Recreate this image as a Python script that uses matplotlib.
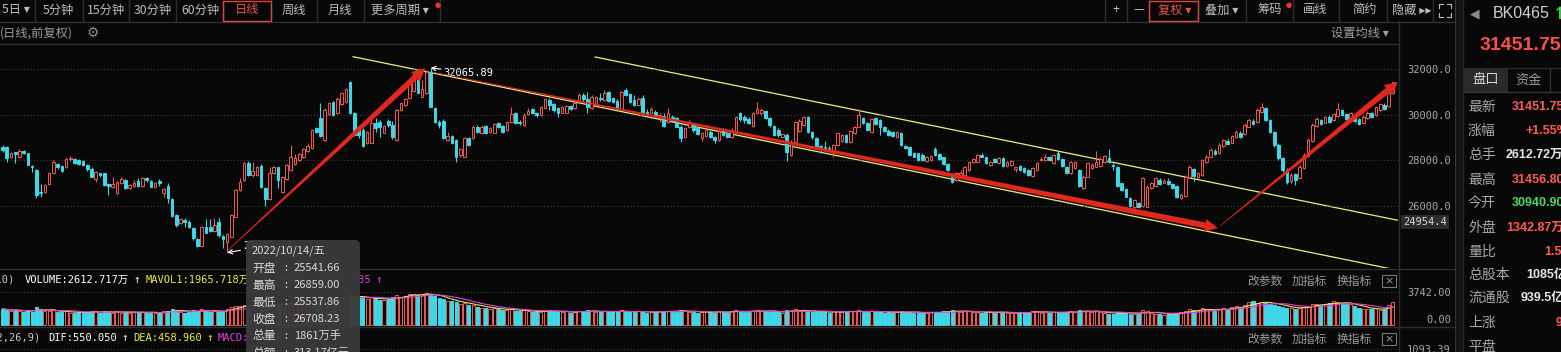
import matplotlib

matplotlib.use("agg")
import matplotlib.pyplot as plt
import numpy as np
import pandas as pd
from matplotlib.patches import Polygon, Rectangle, FancyBboxPatch
from matplotlib.lines import Line2D
from matplotlib.transforms import IdentityTransform, blended_transform_factory

plt.rcParams["font.family"] = ["Noto Sans CJK SC", "DejaVu Sans"]
CJK = ["Noto Sans CJK SC", "DejaVu Sans"]
MONO = ["DejaVu Sans Mono", "Noto Sans CJK SC"]

# daily candles (BK0465, 日线 前复权)
opens = [
    28572, 28572, 28161, 28352, 28132, 28396, 28308, 27751, 27575, 26623,
    26594, 26960, 27458, 27839, 27751, 27693, 28044, 28059, 28015, 27986,
    27795, 27634, 27194, 27429, 27429, 26960, 26843, 26579, 27019, 27136,
    26770, 26872, 27107, 26872, 27209, 27092, 26814, 27092, 26579, 26872,
    26286, 25598, 25231, 25378, 25305, 25012, 24528, 24235, 25085, 25056,
    24909, 25276, 24689, 24426, 24645, 25524, 26696, 27136, 27868, 27341,
    27356, 27751, 26770, 26286, 27429, 27693, 26623, 27165, 27575, 27839,
    28015, 28161, 28425, 28528, 29407, 29846, 28894, 30037, 30579, 30066,
    30476, 30579, 31458, 30066, 29480, 29333, 28747, 28777, 29626, 29700,
    29216, 29744, 29553, 28894, 30212, 30432, 30725, 31062, 31531, 30798,
    30945, 31897, 30286, 29700, 29744, 28894, 29070, 28894, 28235, 28161,
    28967, 28967, 29480, 29187, 29509, 29260, 29216, 29626, 29509, 29333,
    29700, 30066, 29700, 29553, 30037, 30242, 30066, 29993, 30286, 30652,
    30476, 30286, 30095, 30095, 30388, 30286, 30579, 30872, 30681, 30286,
    30432, 30755, 30652, 31018, 30725, 30622, 30242, 31091, 30916, 30652,
    30432, 30725, 30139, 30095, 30139, 29846, 29949, 29700, 29919, 29846,
    29480, 29011, 29480, 29553, 29407, 28967, 29070, 29260, 29011, 28894,
    29333, 29187, 29011, 29260, 30066, 29919, 29802, 29509, 30095, 30066,
    30183, 29846, 29509, 29333, 29011, 29114, 28235, 28821, 29304, 29553,
    29919, 29260, 28967, 28630, 28601, 28528, 28381, 28674, 28865, 29114,
    28821, 29187, 29480, 29846, 29655, 29260, 29846, 29773, 29451, 29304,
    29260, 29011, 29216, 28630, 28572, 28308, 28308, 28235, 27986, 28015,
    28484, 28264, 28132, 27839, 27356, 27136, 27282, 27356, 27575, 27927,
    27942, 28235, 28132, 27795, 28044, 27898, 28088, 27751, 27795, 27634,
    27751, 27649, 27575, 27312, 27575, 28030, 28015, 28161, 27868, 28308,
    28044, 27722, 27429, 27649, 27575, 26770, 27282, 27649, 27722, 27751,
    27942, 28088, 27810, 27722, 26989, 26726, 26330, 25964, 26140, 25993,
    25964, 26770, 26872, 27136, 27019, 27107, 26960, 26872, 26330, 26433,
    27282, 27605, 27253, 27356, 27942, 28161, 28425, 28308, 28630, 28865,
    28777, 29011, 29216, 29158, 29480, 29744, 29700, 30139, 30286, 29773,
    29260, 28674, 28088, 27575, 27107, 27400, 27209, 27649, 28191, 28865,
    29509, 29773, 29655, 29919, 29773, 29949, 30212, 30037, 29846, 29993,
    29802, 29655, 29846, 30066, 29993, 30212, 30432, 30388, 30941,
]
highs = [
    28674, 28630, 28381, 28381, 28484, 28454, 28337, 27810, 27605, 26960,
    26960, 27487, 28015, 27898, 27795, 28088, 28190, 28103, 28044, 28015,
    27824, 27693, 27517, 27458, 27458, 26989, 27282, 27107, 27253, 27180,
    26960, 27136, 27209, 27253, 27253, 27136, 27063, 27165, 26770, 26989,
    26330, 25642, 25480, 25451, 25378, 25056, 24572, 25129, 25422, 25436,
    25451, 25451, 24719, 24792, 25642, 26726, 27209, 27942, 27986, 27942,
    27751, 27839, 26814, 27693, 27751, 27722, 27312, 27839, 28674, 28279,
    28337, 28528, 28747, 29363, 29480, 30505, 30286, 30579, 30622, 30769,
    31018, 31165, 31502, 30139, 29553, 29407, 29304, 29846, 29846, 29773,
    29553, 29802, 29744, 30242, 30579, 30725, 31458, 31751, 31897, 31531,
    31970, 32066, 30359, 29773, 29802, 29260, 29114, 28923, 28528, 29011,
    29011, 29553, 29553, 29553, 29553, 29480, 29655, 29700, 29553, 29744,
    30359, 30139, 29773, 30066, 30286, 30286, 30139, 30388, 30725, 30725,
    30535, 30359, 30388, 30432, 30432, 30622, 30945, 30974, 31018, 30872,
    30828, 30945, 31091, 31062, 30798, 30681, 31062, 31165, 30945, 30872,
    30769, 30872, 30242, 30330, 30212, 30095, 30066, 30286, 29993, 29919,
    29553, 29480, 29773, 29626, 29480, 29260, 29407, 29333, 29070, 29363,
    29407, 29216, 29407, 29949, 30139, 29993, 29890, 30110, 30579, 30286,
    30212, 29890, 29553, 29407, 29216, 29187, 28894, 29744, 29802, 29949,
    29949, 29304, 29011, 28674, 28865, 28630, 28718, 29216, 29158, 29158,
    29333, 29509, 30242, 29919, 29700, 29846, 29919, 29802, 29509, 29363,
    29304, 29304, 29260, 28674, 28630, 28366, 28337, 28308, 28191, 28249,
    28601, 28308, 28161, 27868, 27400, 27502, 27575, 27751, 27986, 28088,
    28279, 28308, 28161, 27986, 28088, 28132, 28132, 27986, 28015, 27722,
    27795, 27693, 27605, 27693, 27942, 28132, 28279, 28191, 28279, 28425,
    28088, 27751, 27986, 27986, 27605, 27356, 27942, 27868, 28425, 28132,
    28235, 28484, 27868, 27751, 27019, 26770, 26374, 26286, 26184, 27253,
    26916, 27063, 27282, 27209, 27165, 27209, 26989, 26916, 26550, 27356,
    27795, 27649, 27502, 28044, 28235, 28528, 28484, 28747, 28953, 28923,
    29114, 29333, 29275, 29626, 29846, 29802, 30286, 30535, 30330, 29832,
    29304, 28747, 28161, 27649, 27429, 27458, 27795, 28308, 28967, 29626,
    29890, 29832, 29949, 29978, 30095, 30535, 30271, 30095, 30125, 30066,
    29861, 29978, 30154, 30125, 30388, 30535, 30505, 31004, 31457,
]
lows = [
    28366, 27942, 28117, 27868, 28088, 28279, 27795, 27502, 26330, 26374,
    26550, 26931, 27429, 27605, 27502, 27649, 27986, 27839, 27780, 27751,
    27546, 27253, 27063, 27253, 26872, 26477, 26770, 26521, 26960, 26726,
    26726, 26814, 26843, 26843, 27048, 26814, 26785, 26872, 26374, 26110,
    25524, 25056, 25202, 25085, 25012, 24499, 24206, 24206, 24792, 24865,
    24865, 24645, 24133, 23942, 24616, 25495, 26667, 27107, 27312, 27282,
    27312, 26770, 25993, 26257, 27400, 26770, 26550, 27136, 27531, 27795,
    27986, 28117, 28381, 28484, 29216, 29040, 28865, 29993, 29949, 30037,
    30432, 30535, 30037, 29070, 28967, 28601, 28718, 28747, 29260, 29011,
    29187, 29480, 28923, 28865, 30183, 30403, 30696, 31018, 30945, 30769,
    30916, 30330, 29626, 29407, 28923, 28865, 28718, 27942, 28161, 28132,
    28630, 28938, 29216, 29158, 29158, 29216, 29187, 29407, 29216, 29304,
    29655, 29597, 29553, 29524, 29993, 30037, 29890, 29949, 30242, 30212,
    30139, 29919, 30066, 30066, 30212, 30242, 30535, 30622, 30066, 30242,
    30388, 30622, 30622, 30579, 30535, 30183, 30212, 30828, 30505, 30388,
    30388, 30037, 29993, 30066, 29846, 29700, 29480, 29655, 29700, 29451,
    28821, 28982, 29436, 29260, 29114, 28865, 29040, 28967, 28777, 28865,
    29070, 28997, 28967, 29216, 29744, 29626, 29597, 29480, 30037, 29993,
    29802, 29480, 29070, 29040, 28967, 27986, 28191, 28777, 29260, 29509,
    29216, 28953, 28572, 28337, 28425, 28425, 28161, 28630, 28821, 28777,
    28777, 29158, 29451, 29582, 29304, 29216, 29553, 29114, 29260, 29070,
    29011, 28967, 28630, 28484, 28191, 28132, 27986, 27971, 27942, 27986,
    28191, 28015, 27795, 27531, 27019, 27107, 27253, 27312, 27546, 27898,
    27913, 28132, 27839, 27751, 27898, 27868, 27722, 27722, 27751, 27502,
    27546, 27429, 27312, 27282, 27546, 27986, 27986, 27986, 27839, 28015,
    27722, 27400, 27400, 27605, 26843, 26726, 27253, 27605, 27693, 27722,
    27898, 27898, 27575, 26843, 26667, 26374, 25964, 25744, 25891, 25964,
    25935, 26726, 26843, 26916, 26989, 26916, 26726, 26330, 26286, 26403,
    27253, 27107, 27209, 27312, 27898, 28132, 28235, 28279, 28601, 28674,
    28747, 28967, 28997, 29114, 29451, 29553, 29655, 30095, 29729, 29187,
    28601, 28015, 27502, 26960, 27019, 26916, 27165, 27605, 28161, 28821,
    29480, 29539, 29626, 29655, 29744, 29919, 29949, 29773, 29802, 29700,
    29553, 29626, 29802, 29846, 29949, 30183, 30212, 30359, 30916,
]
closes = [
    28454, 28088, 28308, 28264, 28425, 28337, 27810, 27722, 26477, 26550,
    26916, 27429, 27942, 27722, 27546, 28044, 28103, 27898, 27839, 27780,
    27605, 27282, 27487, 27370, 26901, 26872, 26960, 27063, 27194, 26770,
    26916, 27019, 26872, 27209, 27136, 26843, 27019, 26989, 26726, 26330,
    25554, 25158, 25436, 25305, 25056, 24572, 24235, 25085, 24821, 24894,
    25158, 24733, 24528, 24762, 25598, 26696, 27063, 27868, 27356, 27546,
    27693, 26843, 26286, 27429, 27693, 27136, 27253, 27780, 28161, 28088,
    28279, 28484, 28630, 29333, 29260, 29070, 30212, 30535, 29993, 30681,
    30974, 31121, 30066, 29114, 29114, 28630, 29260, 29626, 29407, 29480,
    29509, 29553, 29011, 30212, 30505, 30681, 31384, 31677, 30974, 31121,
    31897, 30359, 29700, 29553, 28967, 29070, 28747, 28161, 28484, 28967,
    28674, 29480, 29260, 29480, 29187, 29407, 29597, 29480, 29260, 29700,
    30037, 29626, 29626, 29993, 30183, 30095, 29978, 30359, 30681, 30432,
    30212, 30066, 30359, 30388, 30242, 30535, 30872, 30681, 30359, 30798,
    30769, 30696, 30974, 30622, 30579, 30242, 31018, 30872, 30579, 30432,
    30681, 30066, 30066, 30242, 29993, 29993, 29509, 30095, 29744, 29480,
    28967, 29407, 29655, 29333, 29158, 29187, 29333, 29011, 28894, 29304,
    29114, 29040, 29260, 29890, 29802, 29773, 29626, 30066, 30242, 30212,
    29846, 29553, 29114, 29114, 29158, 28381, 28821, 29700, 29744, 29919,
    29260, 29011, 28630, 28484, 28454, 28484, 28674, 29187, 29114, 28821,
    29304, 29480, 29993, 29626, 29333, 29802, 29597, 29480, 29304, 29114,
    29070, 29260, 28674, 28528, 28235, 28161, 28015, 28015, 28161, 28191,
    28235, 28044, 27839, 27575, 27063, 27458, 27458, 27693, 27942, 28044,
    28235, 28161, 27868, 27942, 27942, 28088, 27751, 27942, 27986, 27693,
    27575, 27502, 27356, 27649, 27898, 28073, 28161, 28015, 28235, 28044,
    27751, 27429, 27942, 27942, 26872, 27282, 27868, 27795, 27942, 28044,
    28191, 27942, 27766, 26872, 26696, 26403, 25993, 26257, 25964, 27209,
    26843, 26989, 27209, 26960, 27107, 26960, 26770, 26374, 26477, 27253,
    27722, 27312, 27458, 28015, 28161, 28454, 28279, 28674, 28894, 28718,
    29070, 29260, 29040, 29553, 29773, 29597, 30212, 30359, 29773, 29260,
    28674, 28088, 27575, 27063, 27356, 27136, 27722, 28235, 28894, 29553,
    29802, 29597, 29890, 29700, 30037, 30242, 29993, 29802, 30066, 29744,
    29597, 29919, 30095, 29890, 30330, 30476, 30242, 30945, 31452,
]
# volume in 万手
volumes = [
    1850, 1720, 1580, 1690, 1620, 1480, 1650, 1540, 2100, 1780,
    1560, 1620, 1700, 1450, 1520, 1600, 1380, 1420, 1460, 1390,
    1480, 1560, 1620, 1410, 1530, 1470, 1380, 1650, 1420, 1510,
    1360, 1440, 1490, 1520, 1350, 1420, 1380, 1330, 1560, 1640,
    1820, 1750, 1480, 1420, 1510, 1690, 1620, 1780, 1560, 1490,
    1620, 1580, 1540, 1850, 2050, 2200, 2150, 2300, 2080, 2250,
    2150, 2350, 2450, 2280, 2400, 2250, 2380, 2520, 2600, 2480,
    2550, 2700, 2620, 2850, 2760, 3050, 2950, 2880, 2980, 3100,
    3150, 3250, 3500, 3300, 3050, 3150, 2950, 3200, 3050, 2900,
    2850, 3000, 3150, 3400, 3250, 3350, 3550, 3600, 3450, 3380,
    3650, 3550, 3300, 3100, 2950, 2700, 2800, 2650, 2400, 2500,
    2300, 2250, 2100, 2000, 1950, 1850, 1900, 1800, 1750, 1700,
    1800, 1650, 1600, 1700, 1550, 1500, 1600, 1450, 1650, 1700,
    1550, 1500, 1450, 1600, 1400, 1500, 1650, 1550, 1700, 1600,
    1500, 1450, 1550, 1600, 1500, 1450, 1700, 1550, 1500, 1450,
    1600, 1550, 1400, 1450, 1500, 1550, 1600, 1650, 1500, 1550,
    1750, 1600, 1500, 1450, 1400, 1500, 1550, 1450, 1400, 1600,
    1500, 1450, 1550, 1700, 1600, 1500, 1450, 1650, 1700, 1600,
    1550, 1500, 1600, 1450, 1400, 1750, 1650, 1800, 1600, 1550,
    1650, 1500, 1550, 1450, 1500, 1400, 1550, 1650, 1500, 1450,
    1600, 1550, 1700, 1500, 1450, 1600, 1500, 1550, 1400, 1450,
    1400, 1500, 1550, 1450, 1500, 1400, 1450, 1350, 1400, 1450,
    1500, 1450, 1550, 1600, 1700, 1550, 1500, 1600, 1550, 1500,
    1450, 1400, 1500, 1450, 1400, 1500, 1450, 1400, 1350, 1400,
    1350, 1450, 1500, 1550, 1600, 1400, 1450, 1350, 1500, 1450,
    1400, 1500, 1550, 1450, 1700, 1650, 1600, 1450, 1550, 1500,
    1350, 1300, 1250, 1500, 1450, 1400, 1300, 1250, 1300, 1700,
    1550, 1350, 1300, 1250, 1200, 1300, 1250, 1350, 1500, 1600,
    1800, 1700, 1600, 1900, 1850, 1750, 1650, 1800, 1900, 1850,
    2050, 2150, 2000, 2300, 2600, 2700, 2500, 2650, 2550, 2450,
    2300, 2200, 2100, 2000, 1900, 1850, 2000, 2100, 2200, 2400,
    2450, 2300, 2350, 2500, 2700, 2600, 2500, 2400, 2350, 2200,
    2000, 1850, 1800, 1850, 1900, 1750, 1800, 2300, 2613,
]

price_ticks = [26000, 28000, 30000, 32000]
vol_ticks = [3742.00]
macd_ticks = [1093.39]
peak_text = "32065.89"
low_text = "23942.16"
line_end_text = "24954.4"

# hand-drawn trend tools: (candle index, price)
channel_upper = [(139.8, 32541), (329.2, 25362)]
channel_lower = [(82.7, 32554), (329.2, 23163)]
trend_arrows = [
    ((53.2, 24050), (99.7, 32055)),
    ((101.3, 31880), (286.7, 25023)),
    ((287.2, 25112), (329.2, 31442)),
]

tip_date = "2022/10/14/五"
tip_labels = ["开盘", "最高", "最低", "收盘", "总量", "总额"]
tip_values = ["25541.66", "26859.00", "25537.86", "26708.23", "1861万手", "313.17亿元"]

quote_labels = ["最新", "涨幅", "总手", "最高", "今开", "外盘", "量比", "总股本", "流通股", "上涨", "平盘"]
quote_values = ["31451.75", "+1.55%", "2612.72万", "31456.80", "30940.90", "1342.87万", "1.58", "1085亿", "939.5亿", "96", ""]

periods = ["5日 ▾", "5分钟", "15分钟", "30分钟", "60分钟", "日线", "周线", "月线", "更多周期 ▾"]
tools = ["+", "—", "复权 ▾", "叠加 ▾", "筹码", "画线", "简约", "隐藏 ▸▸"]

# ---------------------------------------------------------------
W, H = 1561, 352
BG = "#080808"
LINE = "#2f2f2f"
RED = "#f05a55"
CYAN = "#3ed8e8"
TXT = "#bdbdbd"
ARROW_RED = "#e3261e"

fig = plt.figure(figsize=(W / 100, H / 100), dpi=100, facecolor=BG)


def fbox(x0, y0, x1, y1):
    return [x0 / W, 1 - y1 / H, (x1 - x0) / W, (y1 - y0) / H]


def T(x, y, s, **kw):
    kw.setdefault("va", "center")
    kw.setdefault("family", CJK)
    return fig.text(x / W, 1 - y / H, s, **kw)


def hline(y, x0, x1, c=LINE, lw=1.0, **kw):
    fig.add_artist(Line2D([x0 / W, x1 / W], [1 - y / H, 1 - y / H], color=c, lw=lw, **kw))


def vline(x, y0, y1, c=LINE, lw=1.0, **kw):
    fig.add_artist(Line2D([x / W, x / W], [1 - y0 / H, 1 - y1 / H], color=c, lw=lw, **kw))


def prect(x0, y0, x1, y1, **kw):
    fig.add_artist(Rectangle((x0, H - y1), x1 - x0, y1 - y0, transform=IdentityTransform(), **kw))


o = np.array(opens, float)
c = np.array(closes, float)
hi = np.array(highs, float)
lo = np.array(lows, float)
vol = np.array(volumes, float)
idx = np.arange(len(o))
up = c >= o
edge = np.where(up, RED, CYAN)
face = np.where(up, BG, CYAN)
XLIM = (-0.59, 329.2)


def style_axis(a):
    a.set_facecolor("none")
    for s in a.spines.values():
        s.set_visible(False)
    a.set_xlim(*XLIM)
    a.set_xticks([])
    a.yaxis.tick_right()
    a.tick_params(axis="y", length=0, pad=38, labelcolor="#a8a8a8", labelsize=7.5)


# main price panel
ax = fig.add_axes(fbox(0, 45, 1398, 268))
style_axis(ax)
ax.set_ylim(23265, 33068)
ax.set_yticks(price_ticks)
ax.set_yticklabels([f"{v:.1f}" for v in price_ticks])
for lab in ax.get_yticklabels():
    lab.set_family(MONO)
    lab.set_ha("right")
ax.grid(axis="y", color="#3c3c3c", linestyle=(0, (1, 2)), lw=0.8)

ax.vlines(idx, lo, hi, colors=edge, lw=0.8, zorder=2)
ax.bar(idx, np.maximum(np.abs(c - o), 12), bottom=np.minimum(o, c), width=0.62,
       color=face, edgecolor=edge, lw=0.7, zorder=3)

for pts in (channel_upper, channel_lower):
    xs, ys = zip(*pts)
    ax.plot(xs, ys, color="#eeee80", lw=0.9, zorder=1.5)

pk = int(np.argmax(hi))
ax.annotate(peak_text, xy=(pk, hi[pk]), xytext=(13, -5), textcoords="offset pixels",
            color="white", fontsize=7.5, family=MONO, va="center",
            arrowprops=dict(arrowstyle="->", color="white", lw=0.8, shrinkA=0, shrinkB=0))
lw_i = int(np.argmin(lo))
ax.annotate(low_text, xy=(lw_i, lo[lw_i]), xytext=(16, 7), textcoords="offset pixels",
            color="white", fontsize=7.5, family=MONO, va="center",
            arrowprops=dict(arrowstyle="->", color="white", lw=0.8, shrinkA=0, shrinkB=0))


def taper_arrow(p0, p1, w0, w1, head_w, head_len, color):
    a = ax.transData.transform(p0)
    b = ax.transData.transform(p1)
    d = (b - a) / np.hypot(*(b - a))
    n = np.array([-d[1], d[0]])
    base = b - d * head_len
    pts = [a + n * w0 / 2, base + n * w1 / 2, base + n * head_w / 2, b,
           base - n * head_w / 2, base - n * w1 / 2, a - n * w0 / 2]
    fig.add_artist(Polygon(pts, closed=True, transform=IdentityTransform(),
                           fc=color, ec="none", zorder=5))


for p0, p1 in trend_arrows:
    taper_arrow(p0, p1, 0.6, 6.0, 13, 13, ARROW_RED)

T(1403, 222, line_end_text, family=MONO, fontsize=7.5, color="#d8d8d8",
  bbox=dict(fc="#2c2c2c", ec="none", pad=1.5))

# volume panel
av = fig.add_axes(fbox(0, 268, 1398, 327))
style_axis(av)
av.set_ylim(-229, 6521)
av.set_yticks(vol_ticks)
av.set_yticklabels([f"{v:.2f}" for v in vol_ticks])
for lab in av.get_yticklabels():
    lab.set_family(MONO)
    lab.set_ha("right")
av.grid(axis="y", color="#3c3c3c", linestyle=(0, (1, 2)), lw=0.8)
av.bar(idx, vol, width=0.72, color=face, edgecolor=edge, lw=0.7, zorder=2)
vs = pd.Series(vol)
av.plot(idx, vs.rolling(5, min_periods=1).mean(), color="#e8e84a", lw=0.8, zorder=3)
av.plot(idx, vs.rolling(10, min_periods=1).mean(), color="#e040e0", lw=0.8, zorder=3)
av.text(1 + 53 / 1398, 0, "0.00", transform=blended_transform_factory(av.transAxes, av.transData),
        ha="right", va="bottom", color="#a8a8a8", fontsize=7.5, family=MONO)

# macd panel (only header visible)
am = fig.add_axes(fbox(0, 328, 1398, 352))
style_axis(am)
am.set_ylim(943.39, 2143.39)
am.set_yticks(macd_ticks)
am.set_yticklabels([f"{v:.2f}" for v in macd_ticks])
for lab in am.get_yticklabels():
    lab.set_family(MONO)
    lab.set_ha("right")
am.grid(axis="y", color="#3c3c3c", linestyle=(0, (1, 2)), lw=0.8)

# frame lines
hline(21.5, 0, 1456)
hline(44, 0, 1398)
hline(268.5, 0, 1456)
hline(327, 0, 1456)
vline(1398.5, 22, 352)
for x in [35, 83, 129, 176, 223, 271, 317, 364, 440, 1105, 1127, 1149, 1198, 1246, 1293, 1339, 1387, 1433, 1455]:
    vline(x, 0, 21)
prect(223, 0.5, 271, 21, fc="none", ec="#d8463c", lw=1.0, zorder=6)
prect(1149, 0.5, 1198, 21, fc="none", ec="#d8463c", lw=1.0, zorder=6)

# toolbar texts
period_x = [2, 43, 87, 134, 181, 235, 282, 328, 371]
for s, x in zip(periods, period_x):
    T(x, 10, s, fontsize=8.8, color="#e8554a" if s == "日线" else TXT)
T(435, 5, "●", fontsize=5, color="#ff3030", family=["DejaVu Sans"])
tool_x = [1112, 1133, 1158, 1205, 1257, 1303, 1352, 1392]
for s, x in zip(tools, tool_x):
    T(x, 10, s, fontsize=8.8, color="#e8554a" if s.startswith("复权") else TXT)
T(1286, 5, "●", fontsize=5, color="#ff3030", family=["DejaVu Sans"])
# expand icon
for (x0, y0, dx, dy) in [(1439, 4, 1, 1), (1451, 4, -1, 1), (1439, 17, 1, -1), (1451, 17, -1, -1)]:
    fig.add_artist(Line2D([x0 / W, (x0 + 4 * dx) / W], [1 - y0 / H, 1 - y0 / H], color=TXT, lw=0.8))
    fig.add_artist(Line2D([x0 / W, x0 / W], [1 - y0 / H, 1 - (y0 + 4 * dy) / H], color=TXT, lw=0.8))

T(0, 33, "(日线,前复权)", fontsize=8.8, color="#9a9a9a")
T(87, 33, "⚙", fontsize=10, color="#8a8a8a", family=["DejaVu Sans"])
T(1331, 33, "设置均线 ▾", fontsize=8.8, color="#a0a0a0")

# indicator headers
T(15, 280, "VOL(5,10)", ha="right", fontsize=7.5, color="#c8c8c8", family=MONO)
T(25, 280, "VOLUME:2612.717万", fontsize=7.5, color="white", family=MONO)
T(133, 280, "↑", fontsize=8, color="white", family=MONO)
T(146, 280, "MAVOL1:1965.718万", fontsize=7.5, color="#eaea3a", family=MONO)
T(262, 280, "↑", fontsize=8, color="#eaea3a", family=MONO)
T(371, 280, "MAVOL2:2054.335", ha="right", fontsize=7.5, color="#e040e0", family=MONO)
T(375, 280, "↑", fontsize=8, color="#e040e0", family=MONO)

T(41, 338, "MACD(12,26,9)", ha="right", fontsize=7.5, color="#c8c8c8", family=MONO)
T(48, 338, "DIF:550.050", fontsize=7.5, color="white", family=MONO)
T(121, 338, "↑", fontsize=8, color="white", family=MONO)
T(133, 338, "DEA:458.960", fontsize=7.5, color="#eaea3a", family=MONO)
T(206, 338, "↑", fontsize=8, color="#eaea3a", family=MONO)
T(218, 338, "MACD:91.090", fontsize=7.5, color="#e040e0", family=MONO)

for y in (281, 339):
    T(1247, y, "改参数", fontsize=8.5, color="#9a9a9a")
    T(1292, y, "加指标", fontsize=8.5, color="#9a9a9a")
    T(1337, y, "换指标", fontsize=8.5, color="#9a9a9a")
    prect(1382, y - 6, 1396, y + 6, fc="none", ec="#777777", lw=0.8, zorder=6)
    T(1389, y, "×", ha="center", fontsize=8, color="#9a9a9a", family=["DejaVu Sans"])

# tooltip
fig.add_artist(FancyBboxPatch((246, H - 365), 114, 125, boxstyle="round,pad=0,rounding_size=5",
                              transform=IdentityTransform(), fc="#3a3a3a", ec="none",
                              alpha=0.96, zorder=10))
T(252, 251, tip_date, fontsize=8, color="#d8d8d8", zorder=11)
for k, (lab, val) in enumerate(zip(tip_labels, tip_values)):
    y = 268 + k * 17
    T(252, y, lab, fontsize=8.5, color="#d8d8d8", zorder=11)
    T(284, y, ":", fontsize=8, color="#d8d8d8", zorder=11)
    T(294, y, val, fontsize=8, color="#d8d8d8", zorder=11)

# right quote panel
prect(1456, 0, 1463, 352, fc="#151515", ec="none", zorder=4)
vline(1456, 0, 352, c="#3a3a3a", lw=1.2)
vline(1463, 0, 352, c="#2a2a2a", lw=1.0)
T(1459.5, 158, "⁞", ha="center", fontsize=7, color="#777777", family=["DejaVu Sans"])
T(1460, 321, "▶", ha="center", fontsize=6, color="#bbbbbb", family=["DejaVu Sans"])
T(1470, 14, "◀", fontsize=9, color="#888888", family=["DejaVu Sans"])
T(1493, 14, "BK0465", fontsize=11.5, color="#d0d0d0", family=["Liberation Sans"])
T(1553, 14, "↑", fontsize=12, color="#3ccf4e", fontweight="bold", family=["DejaVu Sans"])
T(1480, 45, "31451.75", fontsize=14, color="#ff4d4d", fontweight="bold", family=["Liberation Sans"])

prect(1464, 68, 1508, 92, fc="#2a2a2a", ec="none", zorder=4)
hline(68, 1464, 1561, c="#2a2a2a")
hline(92, 1464, 1561, c="#333333")
vline(1550, 68, 92)
T(1486, 80, "盘口", ha="center", fontsize=9.5, color="#d8d8d8", zorder=6)
T(1529, 80, "资金", ha="center", fontsize=9.5, color="#9a9a9a")

q_y = [107, 131, 155, 180, 203, 228, 252, 275, 298, 323, 347]
q_x = [1512, 1526, 1506, 1512, 1512, 1506, 1544, 1526, 1521, 1556, 1556]
q_col = ["#ff5a5a", "#ff5a5a", "#e6e6e6", "#ff5a5a", "#4cd964", "#ff5a5a",
         "#ff5a5a", "#e6e6e6", "#e6e6e6", "#ff5a5a", "#e6e6e6"]
for lab, val, y, x, col in zip(quote_labels, quote_values, q_y, q_x, q_col):
    T(1468, y, lab, fontsize=10, color="#a8a8a8")
    T(x, y, val, fontsize=9, color=col, fontweight="bold", family=["Liberation Sans", "Noto Sans CJK SC"])

fig.savefig("out.png", dpi=100, facecolor=BG)
